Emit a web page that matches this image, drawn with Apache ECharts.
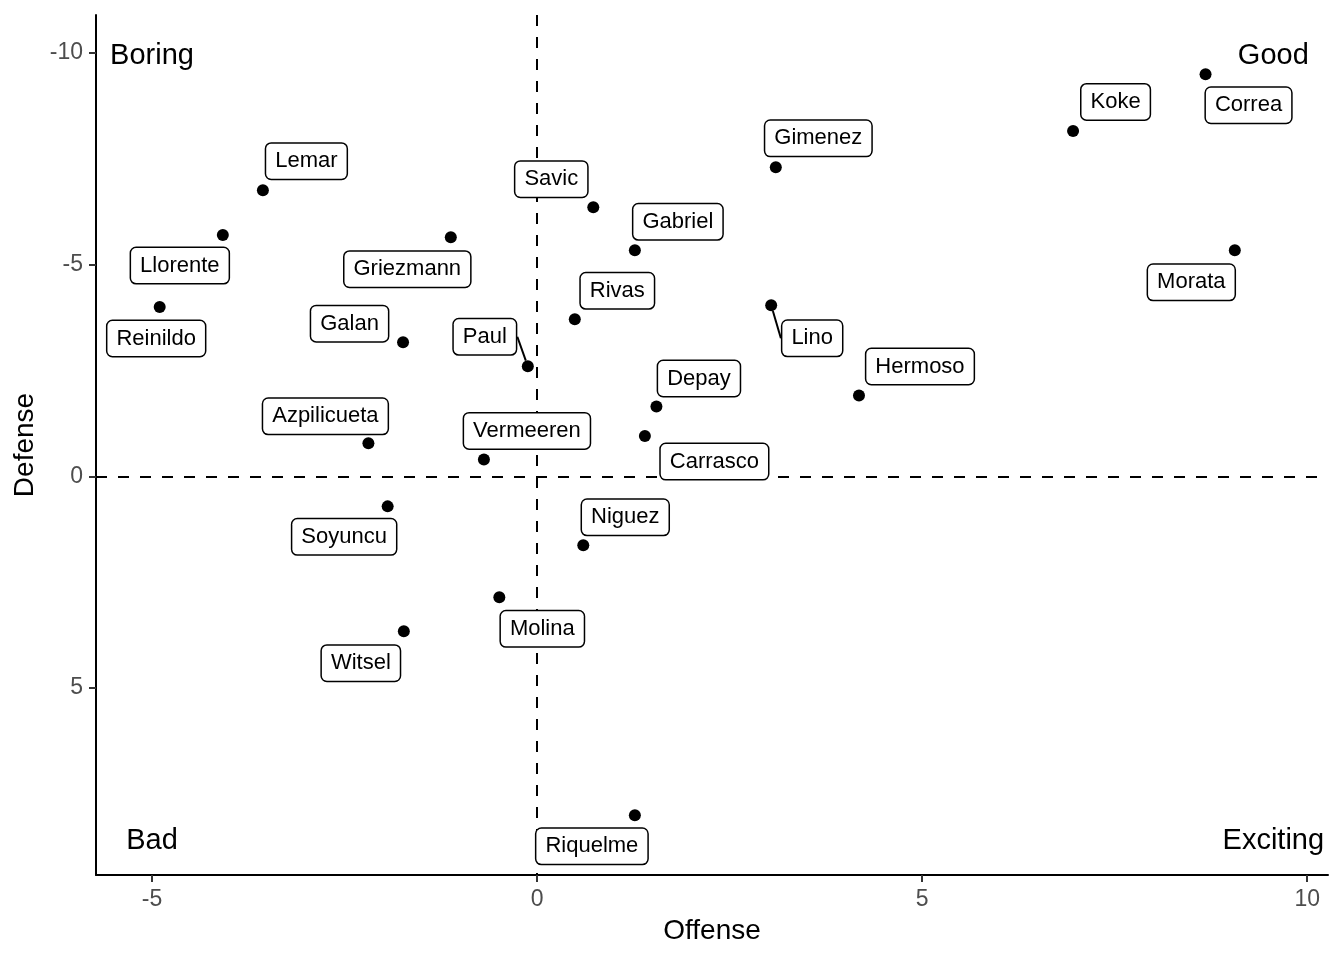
<!DOCTYPE html>
<html>
<head>
<meta charset="utf-8">
<script src="https://cdn.jsdelivr.net/npm/echarts@6/dist/echarts.min.js"></script>
<style>
html,body{margin:0;padding:0;background:#fff;}
#chart{width:1344px;height:960px;}
</style>
</head>
<body>
<div id="chart"></div>
<script>
// Data
const players = ['Correa','Koke','Gimenez','Lemar','Savic','Llorente','Griezmann','Gabriel','Morata','Reinildo','Lino','Rivas','Galan','Paul','Hermoso','Depay','Carrasco','Azpilicueta','Vermeeren','Soyuncu','Niguez','Molina','Witsel','Riquelme'];
const offense = [8.68, 6.96, 3.10, -3.56, 0.73, -4.08, -1.12, 1.27, 9.06, -4.90, 3.04, 0.49, -1.74, -0.12, 4.18, 1.55, 1.40, -2.19, -0.69, -1.94, 0.60, -0.49, -1.73, 1.27];
const defense = [-9.50, -8.16, -7.30, -6.76, -6.36, -5.70, -5.65, -5.34, -5.34, -4.00, -4.04, -3.71, -3.17, -2.60, -1.91, -1.65, -0.95, -0.78, -0.40, 0.71, 1.63, 2.86, 3.66, 8.01];
const xTicks = [-5, 0, 5, 10];
const yTicks = [-10, -5, 0, 5];
const cornerLabels = ['Boring', 'Good', 'Bad', 'Exciting'];
const cornerX = [-5.0, 9.56, -5.0, 9.56];
const cornerY = [-10.0, -10.0, 8.54, 8.54];
// label placement (pixel offsets of label centre from its point)
const labelDx = [43, 42.5, 42.5, 43.5, -42, -43, -43.5, 43, -43.5, -3.5, 41, 42.5, -53.5, -43, 61, 42.5, 69.5, -43, 43, -43.5, 42, 43, -43, -43];
const labelDy = [30, -30, -30, -30, -29, 29.5, 31, -29.5, 31, 30.5, 32, -29.5, -19.5, -30.5, -30, -29, 24.5, -28, -29.5, 29.5, -29, 30.5, 31, 30];
const segmentNames = ['Paul', 'Lino'];

const FONT = '"Liberation Sans", Arial, Helvetica, sans-serif';

const pointData = players.map((n, i) => {
  const item = { name: n, value: [offense[i], defense[i]] };
  if (segmentNames.indexOf(n) >= 0) {
    item.labelLine = { show: true, lineStyle: { color: '#000', width: 2 } };
  }
  return item;
});
const cornerData = cornerLabels.map((n, i) => ({ name: n, value: [cornerX[i], cornerY[i]] }));

const chart = echarts.init(document.getElementById('chart'), null, { renderer: 'canvas' });
chart.setOption({
  animation: false,
  backgroundColor: '#fff',
  grid: { left: 96, right: 16, top: 15, bottom: 85, containLabel: false },
  xAxis: {
    type: 'value', min: -5.727, max: 10.27,
    name: 'Offense', nameLocation: 'middle', nameGap: 42,
    nameTextStyle: { fontFamily: FONT, fontSize: 28, color: '#000' },
    axisLine: { show: true, onZero: false, lineStyle: { color: '#000', width: 2 } },
    axisTick: { show: true, length: 7, customValues: xTicks, lineStyle: { color: '#333', width: 2 } },
    axisLabel: { show: true, customValues: xTicks, margin: 13, fontFamily: FONT, fontSize: 23, color: '#4D4D4D' },
    splitLine: { show: false }
  },
  yAxis: {
    type: 'value', inverse: true, min: -10.90, max: 9.42,
    name: 'Defense', nameLocation: 'middle', nameGap: 56, nameRotate: 90,
    nameTextStyle: { fontFamily: FONT, fontSize: 28, color: '#000' },
    axisLine: { show: true, onZero: false, lineStyle: { color: '#000', width: 2 } },
    axisTick: { show: true, length: 7, customValues: yTicks, lineStyle: { color: '#333', width: 2 } },
    axisLabel: { show: true, customValues: yTicks, margin: 13, fontFamily: FONT, fontSize: 23, color: '#4D4D4D' },
    splitLine: { show: false }
  },
  series: [
    {
      type: 'scatter',
      data: cornerData,
      symbolSize: 0,
      silent: true,
      emphasis: { disabled: true },
      itemStyle: { opacity: 1, color: '#000' },
      label: {
        show: true,
        position: 'inside',
        offset: [0, 3],
        formatter: '{b}',
        fontFamily: FONT,
        fontSize: 29,
        color: '#000'
      },
      markLine: {
        silent: true,
        symbol: ['none', 'none'],
        label: { show: false },
        lineStyle: { color: '#000', width: 2, type: [11, 11], opacity: 1 },
        data: [{ xAxis: 0 }, { yAxis: 0 }]
      },
      z: 1
    },
    {
      type: 'scatter',
      data: pointData,
      symbol: 'circle',
      symbolSize: 12,
      itemStyle: { color: '#000', opacity: 1 },
      emphasis: { disabled: true },
      silent: true,
      label: {
        show: true,
        position: 'inside',
        formatter: '{b}',
        fontFamily: FONT,
        fontSize: 22,
        color: '#000',
        backgroundColor: '#fff',
        borderColor: '#000',
        borderWidth: 1.5,
        borderRadius: 5,
        padding: [10, 9, 3, 9]
      },
      labelLine: { show: false, length2: 0, lineStyle: { color: '#000', width: 2 } },
      labelLayout: function (p) {
        return { dx: labelDx[p.dataIndex], dy: labelDy[p.dataIndex] + 1 };
      },
      z: 5
    }
  ]
});
</script>
</body>
</html>
